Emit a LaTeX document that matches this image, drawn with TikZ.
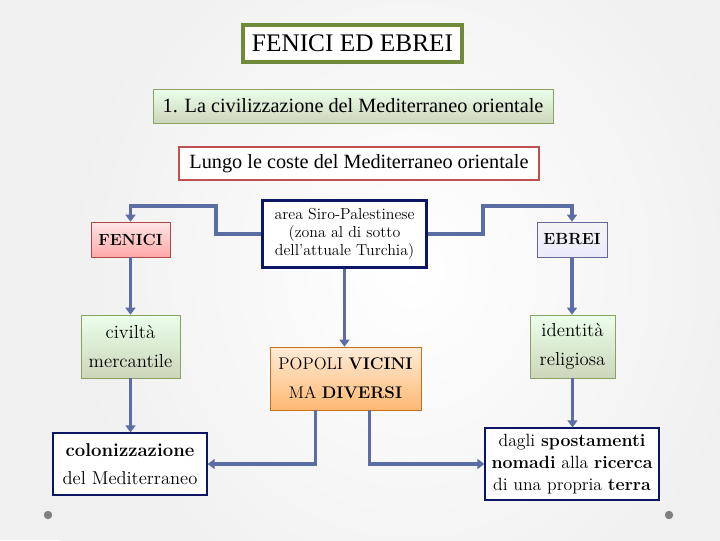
\documentclass[tikz,border=0pt]{standalone}
\usepackage{fontspec}
\usepackage{tikz}
\usetikzlibrary{arrows.meta, positioning, calc}
\newfontfamily\timesfont{Liberation Serif}
\definecolor{linkblue}{RGB}{90,110,164}
\definecolor{olive}{RGB}{110,138,58}
\definecolor{navy}{RGB}{12,22,100}
\definecolor{darkred}{RGB}{192,80,77}

\begin{document}
\begin{tikzpicture}[
    x=0.025cm, y=-0.025cm,
    box/.style={rectangle, draw, align=center, inner sep=0pt},
    greenbox/.style={box, draw=olive!80, top color=green!8!white, bottom color=olive!35},
    plainbox/.style={box, draw=navy, fill=white, line width=0.8pt},
    arrow/.style={-{Triangle[width=7pt, length=5pt]}, line width=2.6pt, linkblue}
]
\useasboundingbox (0,0) rectangle (720,540);
\fill[black!6] (0,0) rectangle (720,540);
\shade[inner color=white, outer color=black!6] (60,-120) rectangle (760,660);

% titoli
\node[box, draw=olive, line width=2.2pt, fill=white, minimum width=219*0.025cm, minimum height=37*0.025cm,
      font=\timesfont\fontsize{18}{20}\selectfont] (title) at (352.5,43.5) {FENICI ED EBREI};
\node[greenbox, minimum width=400*0.025cm, minimum height=34*0.025cm,
      font=\timesfont\fontsize{14.4}{16}\selectfont] (civ) at (353,106) {1. La civilizzazione del Mediterraneo orientale};
\node[box, draw=darkred, fill=white, line width=0.8pt, minimum width=360*0.025cm, minimum height=33*0.025cm,
      font=\timesfont\fontsize{14.4}{16}\selectfont] (coste) at (359,163.5) {Lungo le coste del Mediterraneo orientale};

% popoli
\node[box, draw=darkred!90!black, top color=red!10!white, bottom color=red!35!white!90!pink,
      minimum width=79*0.025cm, minimum height=35*0.025cm, font=\fontsize{11.5}{14}\selectfont\bfseries] (fenici) at (130.5,239.5) {FENICI};
\node[box, draw=gray!80!blue, top color=gray!8, bottom color=gray!40!blue!10!white,
      minimum width=70*0.025cm, minimum height=35*0.025cm, font=\fontsize{11.5}{14}\selectfont\bfseries] (ebrei) at (572,239.5) {EBREI};
\node[box, draw=navy, fill=white, line width=2.2pt, minimum width=164*0.025cm, minimum height=67*0.025cm,
      font=\fontsize{11.3}{13}\selectfont] (area) at (344.5,234) {area Siro-Palestinese\\(zona al di sotto\\dell’attuale Turchia)};

\node[greenbox, minimum width=99*0.025cm, minimum height=63*0.025cm,
      font=\fontsize{13.4}{21}\selectfont] (civilta) at (130.5,346.5) {civiltà\\mercantile};
\node[greenbox, minimum width=85*0.025cm, minimum height=63*0.025cm,
      font=\fontsize{13.4}{21}\selectfont] (identita) at (572.5,346.5) {identità\\religiosa};
\node[box, draw=orange!75!black!90, top color=orange!15!white, bottom color=orange!55!white,
      minimum width=151*0.025cm, minimum height=63*0.025cm,
      font=\fontsize{12}{20.5}\selectfont] (popoli) at (345.5,378.5) {POPOLI \textbf{VICINI}\\MA \textbf{DIVERSI}};

\node[plainbox, minimum width=154*0.025cm, minimum height=62*0.025cm,
      font=\fontsize{13.2}{20}\selectfont] (colon) at (130,464) {\textbf{colonizzazione}\\del Mediterraneo};
\node[plainbox, minimum width=174*0.025cm, minimum height=72*0.025cm,
      font=\fontsize{12.6}{15.5}\selectfont] (dagli) at (572,464) {dagli \textbf{spostamenti}\\\textbf{nomadi} alla \textbf{ricerca}\\di una propria \textbf{terra}};

% collegamenti
\draw[arrow] (area.west) -- ++(-45,0) -- ++(0,-28) -| (fenici.north);
\draw[arrow] (area.east) -- ++(55,0) -- ++(0,-28) -| (ebrei.north);
\draw[arrow] (area.south) -- (area.south |- popoli.north);
\draw[arrow] (fenici.south) -- (fenici.south |- civilta.north);
\draw[arrow] (ebrei.south) -- (ebrei.south |- identita.north);
\draw[arrow] (civilta.south) -- (civilta.south |- colon.north);
\draw[arrow] (identita.south) -- (identita.south |- dagli.north);
\draw[arrow] ([shift={(-30,0)}]popoli.south) |- (colon.east);
\draw[arrow] ([shift={(24,0)}]popoli.south) |- (dagli.west);

% punti
\fill[gray] (48,515) circle (3pt);
\fill[gray] (669,515) circle (3pt);
\end{tikzpicture}
\end{document}
